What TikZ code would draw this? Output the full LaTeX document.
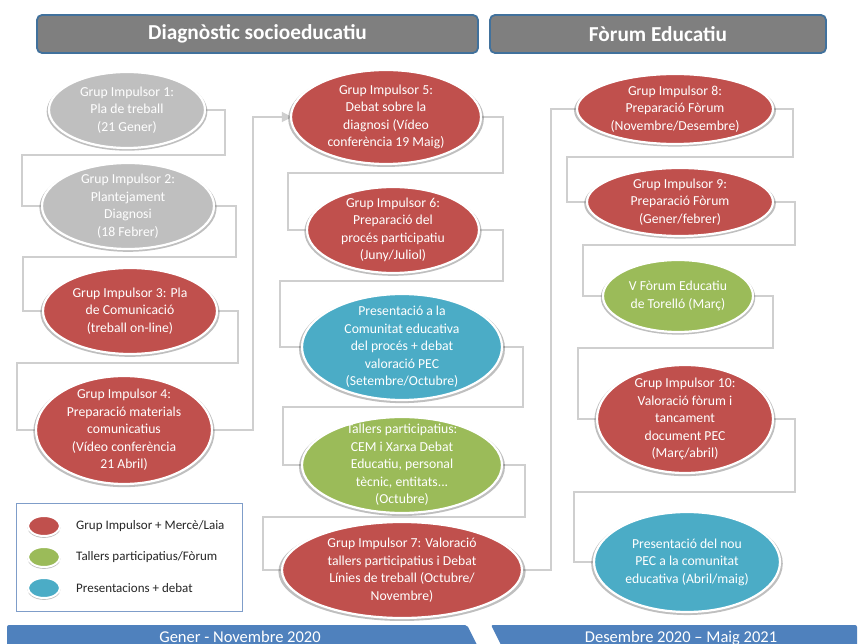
\documentclass[tikz,border=0pt]{standalone}
\usepackage{fontspec}
\setmainfont{Carlito}
\usetikzlibrary{shapes.geometric,arrows.meta,shadows}
\definecolor{cred}{HTML}{C0504D}
\definecolor{cgray}{HTML}{BFBFBF}
\definecolor{cgreen}{HTML}{9BBB59}
\definecolor{cblue}{HTML}{4BACC6}
\definecolor{chdr}{HTML}{7F7F7F}
\definecolor{chdrline}{HTML}{41719C}
\definecolor{cline}{HTML}{CFCFCF}
\definecolor{cbar}{HTML}{4F81BD}
\definecolor{clegline}{HTML}{7F9DC9}
\definecolor{ctext}{HTML}{262626}
\pgfdeclarelayer{bg}
\pgfdeclarelayer{lines}
\pgfsetlayers{bg,lines,main}
\begin{document}
\begin{tikzpicture}[x=1pt,y=-1pt,
  bub/.style={ellipse, draw=white, line width=2.2pt, inner sep=0pt,
    drop shadow={shadow xshift=0pt, shadow yshift=-1.5pt, shadow scale=1.03, opacity=0.25, fill=black}},
  redb/.style={bub, fill=cred},
  grayb/.style={bub, fill=cgray},
  greenb/.style={bub, fill=cgreen},
  blueb/.style={bub, fill=cblue},
  etext/.style={text=white, align=center, inner sep=0pt, font=\fontsize{13.7}{17.5}\selectfont},
  conn/.style={draw=cline, line width=1.4pt},
  hdr/.style={draw=chdrline, line width=1.8pt, fill=chdr, rounded corners=5pt, minimum height=38pt,
    text=white, font=\bfseries\fontsize{21.3}{24}\selectfont, inner sep=0pt},
  legtext/.style={anchor=west, text=ctext, inner sep=0pt, font=\fontsize{13}{15}\selectfont},
  legb/.style={minimum width=32pt, minimum height=20pt, line width=2pt},
  bartext/.style={text=white, inner sep=0pt, anchor=base, font=\fontsize{16.5}{20}\selectfont}]

\begin{pgfonlayer}{bg}
\path[use as bounding box, fill=white] (0,0) rectangle (860,644);
\end{pgfonlayer}
\clip (0,0) rectangle (860,644);

% headers
\node[hdr, minimum width=441pt] (h1) at (257.5,34) {Diagnòstic socioeducatiu};
\node[hdr, minimum width=336pt] (h2) at (658,34) {Fòrum Educatiu};

% column 1
\node[grayb, minimum width=156pt, minimum height=76pt] (e1) at (127,110) {};
\node[etext] (t1) at (e1) {Grup Impulsor 1:\\Pla de treball\\(21 Gener)};
\node[grayb, minimum width=172pt, minimum height=86pt] (e2) at (128,206) {};
\node[etext] (t2) at (e2) {Grup Impulsor 2:\\Plantejament\\Diagnosi\\(18 Febrer)};
\node[redb, minimum width=174pt, minimum height=86pt] (e3) at (130,311) {};
\node[etext] (t3) at (e3) {Grup Impulsor 3: Pla\\de Comunicació\\(treball on-line)};
\node[redb, minimum width=176pt, minimum height=108pt] (e4) at (124,430) {};
\node[etext] (t4) at (e4) {Grup Impulsor 4:\\Preparació materials\\comunicatius\\(Vídeo conferència\\21 Abril)};

% column 2
\node[redb, minimum width=190pt, minimum height=94pt] (e5) at (386,117) {};
\node[etext] (t5) at (e5) {Grup Impulsor 5:\\Debat sobre la\\diagnosi (Vídeo\\conferència 19 Maig)};
\node[redb, minimum width=172pt, minimum height=86pt] (e6) at (393,230) {};
\node[etext] (t6) at (e6) {Grup Impulsor 6:\\Preparació del\\procés participatiu\\(Juny/Juliol)};
\node[blueb, minimum width=200pt, minimum height=106pt] (e7) at (402,347) {};
\node[etext] (t7) at (e7) {Presentació a la\\Comunitat educativa\\del procés + debat\\valoració PEC\\(Setembre/Octubre)};
\node[greenb, minimum width=200pt, minimum height=96pt] (e8) at (402,465) {};
\node[etext] (t8) at (e8) {Tallers participatius:\\CEM i Xarxa Debat\\Educatiu, personal\\tècnic, entitats...\\(Octubre)};
\node[redb, minimum width=240pt, minimum height=96pt] (e9) at (402,570) {};
\node[etext] (t9) at (e9) {Grup Impulsor 7: Valoració\\tallers participatius i Debat\\Línies de treball (Octubre/\\Novembre)};

% column 3
\node[redb, minimum width=196pt, minimum height=70pt] (e10) at (675,109) {};
\node[etext] (t10) at (e10) {Grup Impulsor 8:\\Preparació Fòrum\\(Novembre/Desembre)};
\node[redb, minimum width=186pt, minimum height=68pt] (e11) at (680,202) {};
\node[etext] (t11) at (e11) {Grup Impulsor 9:\\Preparació Fòrum\\(Gener/febrer)};
\node[greenb, minimum width=150pt, minimum height=72pt] (e12) at (678,296) {};
\node[etext] (t12) at (e12) {V Fòrum Educatiu\\de Torelló (Març)};
\node[redb, minimum width=176pt, minimum height=108pt] (e13) at (685,419) {};
\node[etext] (t13) at (e13) {Grup Impulsor 10:\\Valoració fòrum i\\tancament\\document PEC\\(Març/abril)};
\node[blueb, minimum width=186pt, minimum height=100pt] (e14) at (687,562) {};
\node[etext] (t14) at (e14) {Presentació del nou\\PEC a la comunitat\\educativa (Abril/maig)};

% connectors
\begin{pgfonlayer}{lines}
\draw[conn] (e1.east) -| (225,155) -- (22,155) |- (e2.west);
\draw[conn] (e2.east) -| (236,257) -- (23,257) |- (e3.west);
\draw[conn] (e3.east) -| (238,363) -- (17,363) |- (e4.west);
\draw[conn, -{Triangle[length=10pt,width=10pt]}, shorten >=-2pt] (e4.east) -| (253,117) -- (e5.west);
\draw[conn] (e5.east) -| (503,173) -- (288,173) |- (e6.west);
\draw[conn] (e6.east) -| (503,281) -- (280,281) |- (e7.west);
\draw[conn] (e7.east) -| (523,407) -- (283,407) |- (e8.west);
\draw[conn] (e8.east) -| (525,517) -- (263,517) |- (e9.west);
\draw[conn] (e9.east) -| (551,109) -- (e10.west);
\draw[conn] (e10.east) -| (793,157) -- (567,157) |- (e11.west);
\draw[conn] (e11.east) -| (795,245) -- (583,245) |- (e12.west);
\draw[conn] (e12.east) -| (773,348) -- (578,348) |- (e13.west);
\draw[conn] (e13.east) -| (795,492) -- (574,492) |- (e14.west);
\end{pgfonlayer}

% legend
\node[draw=clegline, line width=0.9pt, fill=white, minimum width=226pt, minimum height=108pt, inner sep=0pt] (leg) at (129,557) {};
\node[redb, legb] (l1) at (44,526) {};
\node[greenb, legb] (l2) at (44,557) {};
\node[blueb, legb] (l3) at (44,588) {};
\node[legtext] (lt1) at (76,526) {Grup Impulsor + Mercè/Laia};
\node[legtext] (lt2) at (76,557) {Tallers participatius/Fòrum};
\node[legtext] (lt3) at (76,588) {Presentacions + debat};

% bottom bars
\fill[cbar, rounded corners=2pt] (7,625) -- (467,625) -- (479,649) -- (467,673) -- (7,673) -- cycle;
\fill[cbar, rounded corners=2pt] (491,625) -- (857,625) -- (857,673) -- (491,673) -- (503,649) -- cycle;
\node[bartext] (b1) at (240,642.5) {Gener - Novembre 2020};
\node[bartext] (b2) at (681,642.5) {Desembre 2020 – Maig 2021};
\end{tikzpicture}
\end{document}
